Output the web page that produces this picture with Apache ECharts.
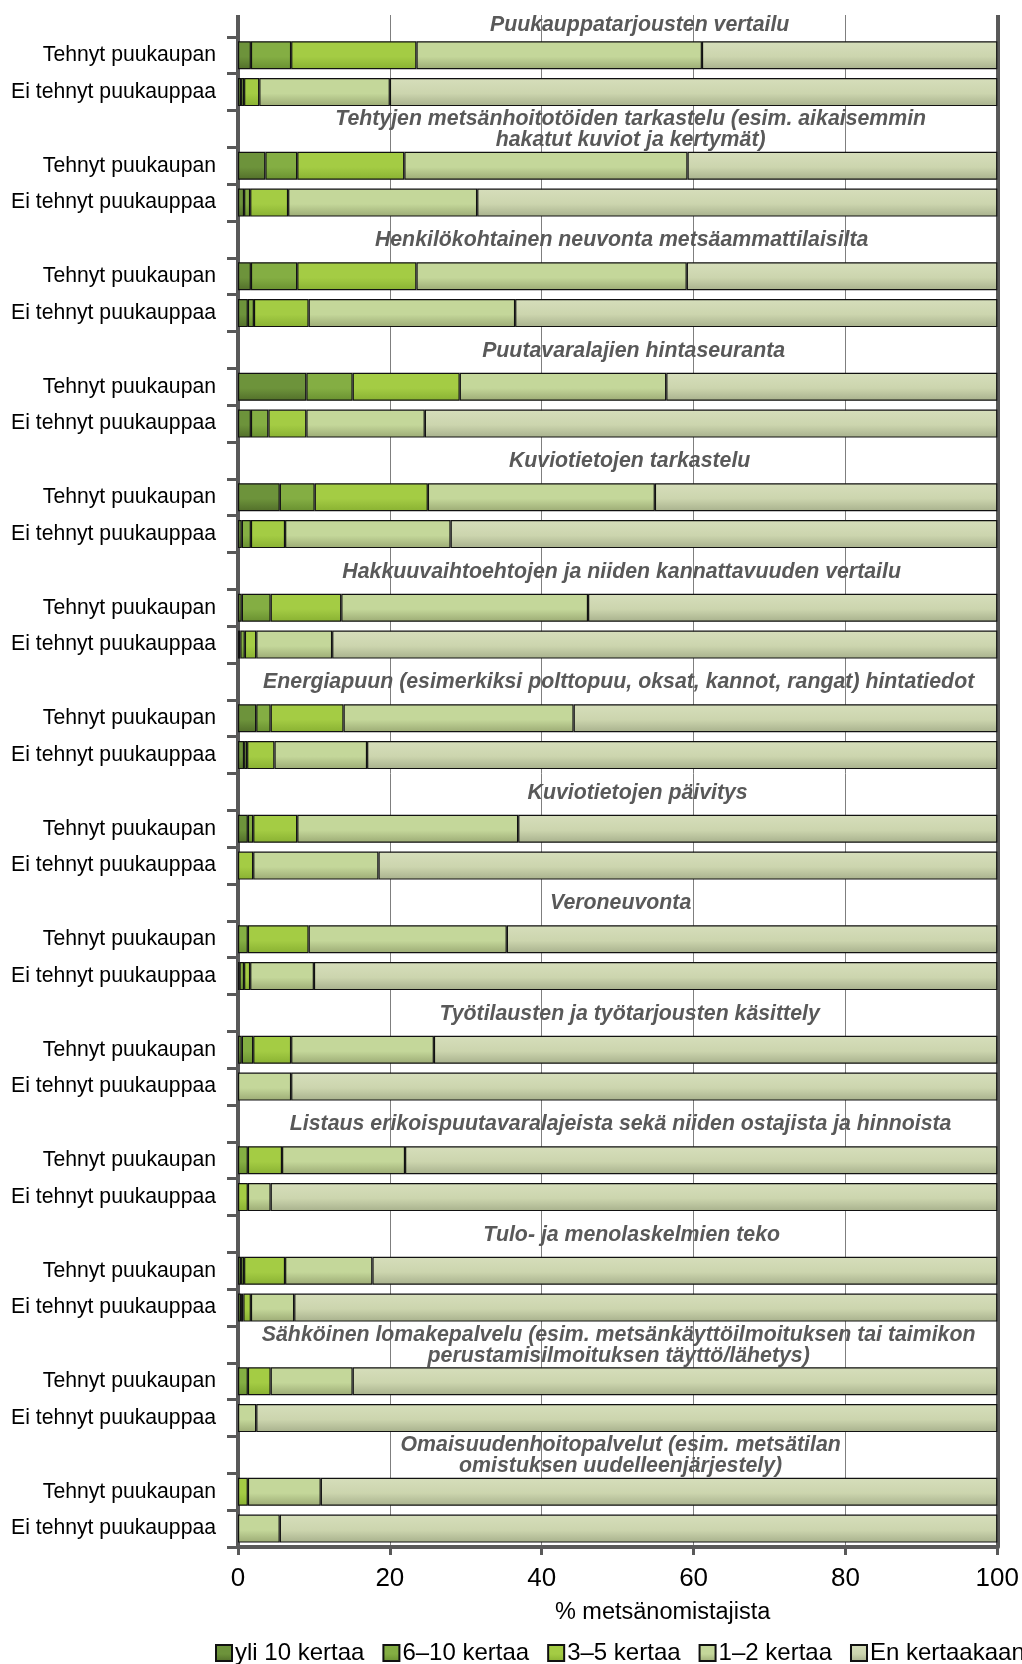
<!DOCTYPE html>
<html>
<head>
<meta charset="utf-8">
<script src="https://cdn.jsdelivr.net/npm/echarts@6/dist/echarts.min.js"></script>
<style>
html,body{margin:0;padding:0;background:#fff;}
#chart{width:1022px;height:1664px;}
</style>
</head>
<body>
<div id="chart"></div>
<script>
const titles = [
  'Puukauppatarjousten vertailu',
  'Tehtyjen metsänhoitotöiden tarkastelu (esim. aikaisemmin\nhakatut kuviot ja kertymät)',
  'Henkilökohtainen neuvonta metsäammattilaisilta',
  'Puutavaralajien hintaseuranta',
  'Kuviotietojen tarkastelu',
  'Hakkuuvaihtoehtojen ja niiden kannattavuuden vertailu',
  'Energiapuun (esimerkiksi polttopuu, oksat, kannot, rangat) hintatiedot',
  'Kuviotietojen päivitys',
  'Veroneuvonta',
  'Työtilausten ja työtarjousten käsittely',
  'Listaus erikoispuutavaralajeista sekä niiden ostajista ja hinnoista',
  'Tulo- ja menolaskelmien teko',
  'Sähköinen lomakepalvelu (esim. metsänkäyttöilmoituksen tai taimikon\nperustamisilmoituksen täyttö/lähetys)',
  'Omaisuudenhoitopalvelut (esim. metsätilan\nomistuksen uudelleenjärjestely)'
];
const rowLabels = ['Tehnyt puukaupan', 'Ei tehnyt puukauppaa'];
const seriesNames = ['yli 10 kertaa', '6–10 kertaa', '3–5 kertaa', '1–2 kertaa', 'En kertaakaan'];

// values per row: [Tehnyt, Ei tehnyt] for each topic, in order
const yli10 = [1.7,0.4, 3.6,0.8, 1.7,1.3, 9.0,1.7, 5.5,0.5, 0.5,0.3, 2.4,0.8, 1.3,0, 0,0.2, 0.5,0, 0,0, 0.4,0.4, 0,0, 0,0];
const k6_10 = [5.3,0.4, 4.2,0.8, 6.1,0.8, 6.1,2.3, 4.6,1.2, 3.8,0.6, 1.9,0.4, 0.7,0, 1.3,0.6, 1.5,0, 1.3,0, 0.4,0.3, 1.3,0, 0,0];
const k3_5 = [16.5,2.0, 14.1,5.0, 15.7,7.2, 14.1,5.0, 14.9,4.5, 9.3,1.5, 9.6,3.6, 5.8,2.0, 8.0,0.8, 5.0,0, 4.5,1.3, 5.4,1.0, 3.0,0, 1.3,0];
const k1_2 = [37.6,17.2, 37.3,24.9, 35.6,27.2, 27.2,15.6, 29.9,21.8, 32.5,10.0, 30.3,12.2, 29.1,16.5, 26.1,8.4, 18.8,7.0, 16.2,3.0, 11.5,5.7, 10.8,2.4, 9.6,5.5];
const enKertaakaan = [38.9,80.0, 40.8,68.5, 40.9,63.5, 43.6,75.4, 45.1,72.0, 53.9,87.6, 55.8,83.0, 63.1,81.5, 64.6,90.0, 74.2,93.0, 78.0,95.7, 82.3,92.6, 84.9,97.6, 89.1,94.5];
const xTicks = [0, 20, 40, 60, 80, 100];

// styling: horizontal nudge of each heading (px)
const titleShiftX = [22, 13, 4, 16, 12, 4, 1, 20, 3, 12, 3, 14, 1, 3];

const seriesValues = [yli10, k6_10, k3_5, k1_2, enKertaakaan];
const gradients = [
  ['#6d933b', '#526f2a'],
  ['#84ae43', '#699030'],
  ['#a4cc44', '#89b132'],
  ['#c4d79a', '#9cab75'],
  ['#d6debb', '#a8b18d']
];

const categories = [];
titles.forEach((t, g) => { categories.push('title' + g, 'T' + g, 'E' + g); });

function rowsFor(arr) {
  const out = [];
  titles.forEach((t, g) => {
    out.push('-');
    const a = arr[2 * g], b = arr[2 * g + 1];
    out.push(a > 0 ? a : '-');
    out.push(b > 0 ? b : '-');
  });
  return out;
}

const FONT = 'Liberation Sans, Arial, sans-serif';

const series = seriesValues.map((arr, i) => ({
  name: seriesNames[i],
  type: 'bar',
  stack: 'total',
  barWidth: '76%',
  data: rowsFor(arr),
  itemStyle: {
    color: new echarts.graphic.LinearGradient(0, 0, 0, 1, [
      { offset: 0, color: gradients[i][0] },
      { offset: 0.55, color: i === 4 ? '#ccd5ae' : gradients[i][0] },
      { offset: 1, color: gradients[i][1] }
    ]),
    borderColor: '#111',
    borderWidth: 1.2
  },
  emphasis: { disabled: true }
}));

const titleData = [];
titles.forEach((t, g) => {
  titleData.push({ value: 100, label: { offset: [titleShiftX[g], g === 0 ? 7 : 1] } });
  titleData.push('-', '-');
});
series.push({
  name: 'otsikot',
  type: 'bar',
  stack: 'total',
  barWidth: '76%',
  data: titleData,
  itemStyle: { color: 'rgba(0,0,0,0)' },
  silent: true,
  label: {
    show: true,
    position: 'inside',
    formatter: p => titles[Math.floor(p.dataIndex / 3)],
    fontFamily: FONT,
    fontSize: 21.3,
    fontWeight: 'bold',
    fontStyle: 'italic',
    color: '#595959',
    lineHeight: 21,
    align: 'center'
  }
});

const chart = echarts.init(document.getElementById('chart'), null, { renderer: 'canvas' });
chart.setOption({
  animation: false,
  backgroundColor: '#fff',
  textStyle: { fontFamily: FONT },
  grid: { left: 238, right: 17, top: -4, bottom: 117, containLabel: false },
  legend: {
    data: seriesNames,
    left: 210,
    top: 1636,
    width: 1400,
    itemWidth: 16,
    itemHeight: 16,
    itemGap: 18,
    icon: 'rect',
    textStyle: { fontFamily: FONT, fontSize: 24, color: '#000', padding: [0, 0, 0, -2] },
    selectedMode: false
  },
  xAxis: {
    type: 'value',
    min: 0,
    max: 100,
    interval: 20,
    axisLine: { show: true, lineStyle: { color: '#595959', width: 4 } },
    axisTick: { show: true, length: 8, lineStyle: { color: '#595959', width: 3 } },
    axisLabel: {
      fontFamily: FONT, fontSize: 26, color: '#000', margin: 19,
      formatter: v => xTicks.includes(v) ? String(v) : ''
    },
    splitLine: { show: true, lineStyle: { color: '#7f7f7f', width: 1 } },
    name: '% metsänomistajista',
    nameLocation: 'middle',
    nameGap: 54,
    nameTextStyle: { fontFamily: FONT, fontSize: 23.5, color: '#000', padding: [0, 0, 0, 90] }
  },
  yAxis: [{
    type: 'category',
    inverse: true,
    data: categories,
    axisLine: { show: true, lineStyle: { color: '#595959', width: 4 } },
    axisTick: { show: true, interval: 0, length: 11, lineStyle: { color: '#595959', width: 3 } },
    axisLabel: {
      interval: 0,
      margin: 22,
      fontFamily: FONT,
      fontSize: 21.2,
      color: '#000',
      formatter: (v, idx) => (idx % 3 === 0 ? '' : rowLabels[(idx % 3) - 1])
    }
  }, {
    type: 'category',
    inverse: true,
    position: 'right',
    data: categories,
    axisLine: { show: true, lineStyle: { color: '#595959', width: 4 } },
    axisTick: { show: false },
    axisLabel: { show: false }
  }],
  graphic: [{
    type: 'rect',
    z: 1,
    silent: true,
    shape: { x: 215, y: 0, width: 800, height: 15 },
    style: { fill: '#fff' }
  }],
  series: series
});
</script>
</body>
</html>
